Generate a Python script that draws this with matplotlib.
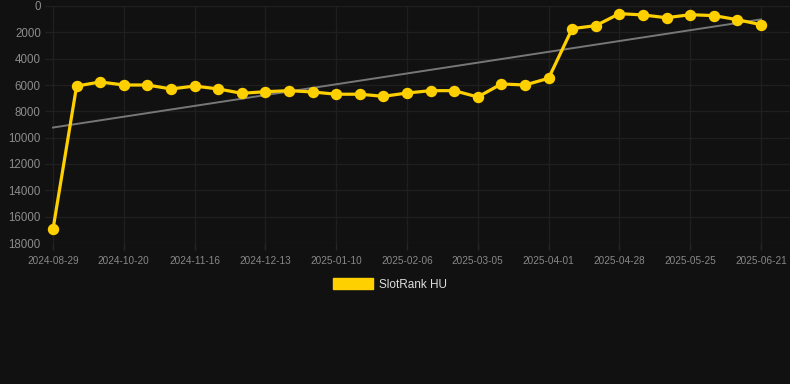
import matplotlib
matplotlib.use("Agg")
import matplotlib.pyplot as plt
import matplotlib.patches as mpatches
import numpy as np

plt.rcParams['font.family'] = ['Liberation Sans', 'DejaVu Sans']

# --- data
dates = ['2024-08-29', '2024-10-02', '2024-10-11', '2024-10-20', '2024-10-29',
         '2024-11-07', '2024-11-16', '2024-11-25', '2024-12-04', '2024-12-13',
         '2024-12-22', '2024-12-31', '2025-01-10', '2025-01-19', '2025-01-28',
         '2025-02-06', '2025-02-15', '2025-02-24', '2025-03-05', '2025-03-14',
         '2025-03-23', '2025-04-01', '2025-04-10', '2025-04-19', '2025-04-28',
         '2025-05-07', '2025-05-16', '2025-05-25', '2025-06-03', '2025-06-12',
         '2025-06-21']
rank = [16950, 6080, 5770, 6000, 6000, 6300, 6080, 6300, 6630, 6510,
        6430, 6530, 6700, 6700, 6860, 6610, 6430, 6430, 6910, 5920,
        6000, 5490, 1720, 1490, 580, 680, 890, 660, 730, 1040,
        1420]
yticks = [0, 2000, 4000, 6000, 8000, 10000, 12000, 14000, 16000, 18000]
series_name = 'SlotRank HU'

bg = '#111111'
gold = '#FFD000'
grid = '#1f1f1f'

W, H = 790, 384
fig = plt.figure(figsize=(W / 100, H / 100), dpi=100, facecolor=bg)
ax = fig.add_axes([45 / W, (H - 243) / H, (W - 45) / W, (243 - 6) / H])
ax.set_facecolor(bg)

x = np.arange(len(rank))

# trend line (least squares)
k, b = np.polyfit(x, rank, 1)
ax.plot(x, k * x + b, color='#777777', lw=1.4, zorder=2)

ax.plot(x, rank, color=gold, lw=2.3, marker='o', markersize=7.2,
        markerfacecolor=gold, markeredgecolor=gold, zorder=3, clip_on=False)

px = 23.6
ax.set_xlim(-8 / px, 30 + 29 / px)
ax.set_ylim(18000, 0)

lab_idx = list(range(0, len(dates), 3))
ax.set_xticks(lab_idx)
ax.set_xticklabels([dates[i] for i in lab_idx])
ax.set_yticks(yticks)
ax.set_yticklabels([str(v) for v in yticks])

ax.tick_params(axis='x', colors='#262626', labelcolor='#888888', labelsize=7.2,
               length=5, width=1, pad=4)
ax.tick_params(axis='y', length=0, labelcolor='#8c8c8c', labelsize=8.3, pad=3)

ax.grid(True, color=grid, lw=1)
ax.set_axisbelow(True)
for s in ax.spines.values():
    s.set_visible(False)

handle = mpatches.Patch(facecolor=gold, edgecolor=gold, label=series_name)
leg = fig.legend(handles=[handle], loc='center',
                 bbox_to_anchor=(390 / W, 1 - 284.5 / H), frameon=False,
                 fontsize=8.5, handlelength=3.4, handleheight=1.0,
                 handletextpad=0.5)
for t in leg.get_texts():
    t.set_color('#dddddd')

fig.savefig('out.png', dpi=100, facecolor=bg)
